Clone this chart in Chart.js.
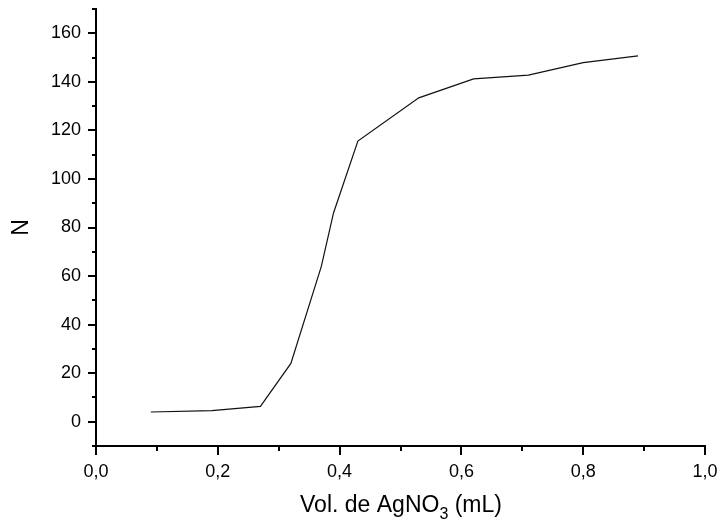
<!DOCTYPE html>
<html>
<head>
<meta charset="utf-8">
<script src="https://cdn.jsdelivr.net/npm/chart.js@4/dist/chart.umd.min.js"></script>
<style>
  html, body { margin: 0; padding: 0; background: #fff; }
  #wrap { width: 721px; height: 522px; }
</style>
</head>
<body>
<div id="wrap"><canvas id="myChart" width="721" height="522"></canvas></div>
<script>
// data
const volume = [0.09, 0.19, 0.27, 0.32, 0.37, 0.39, 0.43, 0.53, 0.62, 0.71, 0.80, 0.89];
const nValues = [4.0, 4.6, 6.3, 24.0, 64.0, 86.0, 115.6, 133.4, 141.2, 142.8, 147.9, 150.7];

const xMin = 0, xMax = 1.0, xStep = 0.1;
const yMin = -10, yMax = 170, yStep = 10;
const xTitle = ['Vol. de AgNO', '3', ' (mL)'];
const yTitle = 'N';

const fontFamily = '"Liberation Sans", Arial, sans-serif';

// ticks: long ones where there is a label, short ones in between
const tickMarks = {
  id: 'tickMarks',
  afterDraw(chart) {
    const ctx = chart.ctx;
    const xs = chart.scales.x, ys = chart.scales.y;
    ctx.save();
    ctx.strokeStyle = '#000';
    ctx.lineWidth = 2;
    ys.ticks.forEach((t, i) => {
      const y = Math.round(ys.getPixelForTick(i));
      const len = t.label ? 8 : 4;
      ctx.beginPath();
      ctx.moveTo(ys.right, y);
      ctx.lineTo(ys.right - len, y);
      ctx.stroke();
    });
    xs.ticks.forEach((t, i) => {
      const x = Math.round(xs.getPixelForTick(i));
      const len = t.label ? 9 : 5;
      ctx.beginPath();
      ctx.moveTo(x, xs.top);
      ctx.lineTo(x, xs.top + len);
      ctx.stroke();
    });

    // x title with subscript
    ctx.fillStyle = '#000';
    ctx.textBaseline = 'alphabetic';
    ctx.textAlign = 'left';
    const big = '23px ' + fontFamily, small = '16px ' + fontFamily;
    ctx.font = big;
    const w1 = ctx.measureText(xTitle[0]).width;
    const w3 = ctx.measureText(xTitle[2]).width;
    ctx.font = small;
    const w2 = ctx.measureText(xTitle[1]).width;
    let x = 401 - (w1 + w2 + w3) / 2;
    ctx.font = big;
    ctx.fillText(xTitle[0], x, 512);
    ctx.font = small;
    ctx.fillText(xTitle[1], x + w1, 519);
    ctx.font = big;
    ctx.fillText(xTitle[2], x + w1 + w2, 512);
    ctx.restore();
  }
};

const ctx = document.getElementById('myChart');
new Chart(ctx, {
  type: 'line',
  data: {
    datasets: [{
      data: volume.map((v, i) => ({ x: v, y: nValues[i] })),
      borderColor: '#111',
      borderWidth: 1.2,
      pointRadius: 0,
      fill: false,
      tension: 0
    }]
  },
  options: {
    responsive: false,
    animation: false,
    layout: { padding: { left: 0, right: 16, top: 9, bottom: 0 } },
    plugins: { legend: { display: false }, tooltip: { enabled: false } },
    scales: {
      x: {
        type: 'linear',
        min: xMin, max: xMax,
        grid: { display: true, drawOnChartArea: false, drawTicks: false },
        border: { display: true, color: '#000', width: 2 },
        ticks: {
          stepSize: xStep,
          padding: 15,
          color: '#000',
          font: { family: fontFamily, size: 18 },
          maxRotation: 0,
          autoSkip: false,
          callback: (v) => Math.round(v * 10) % 2 === 0 ? v.toFixed(1).replace('.', ',') : ''
        },
        afterFit(scale) {
          scale.height = 76;
          scale.paddingLeft = 0;
          scale.paddingRight = 0;
        }
      },
      y: {
        min: yMin, max: yMax,
        grid: { display: true, drawOnChartArea: false, drawTicks: false },
        border: { display: true, color: '#000', width: 2 },
        title: {
          display: true,
          text: yTitle,
          color: '#000',
          font: { family: fontFamily, size: 23 },
          padding: { top: 8, bottom: 0 }
        },
        ticks: {
          stepSize: yStep,
          padding: 15,
          color: '#000',
          font: { family: fontFamily, size: 18 },
          autoSkip: false,
          callback: (v) => (v % 20 === 0 && v >= 0 && v <= 160) ? String(v) : ''
        },
        afterFit(scale) {
          scale.width = 96;
          scale.paddingTop = 0;
          scale.paddingBottom = 0;
        }
      }
    }
  },
  plugins: [tickMarks]
});
</script>
</body>
</html>
